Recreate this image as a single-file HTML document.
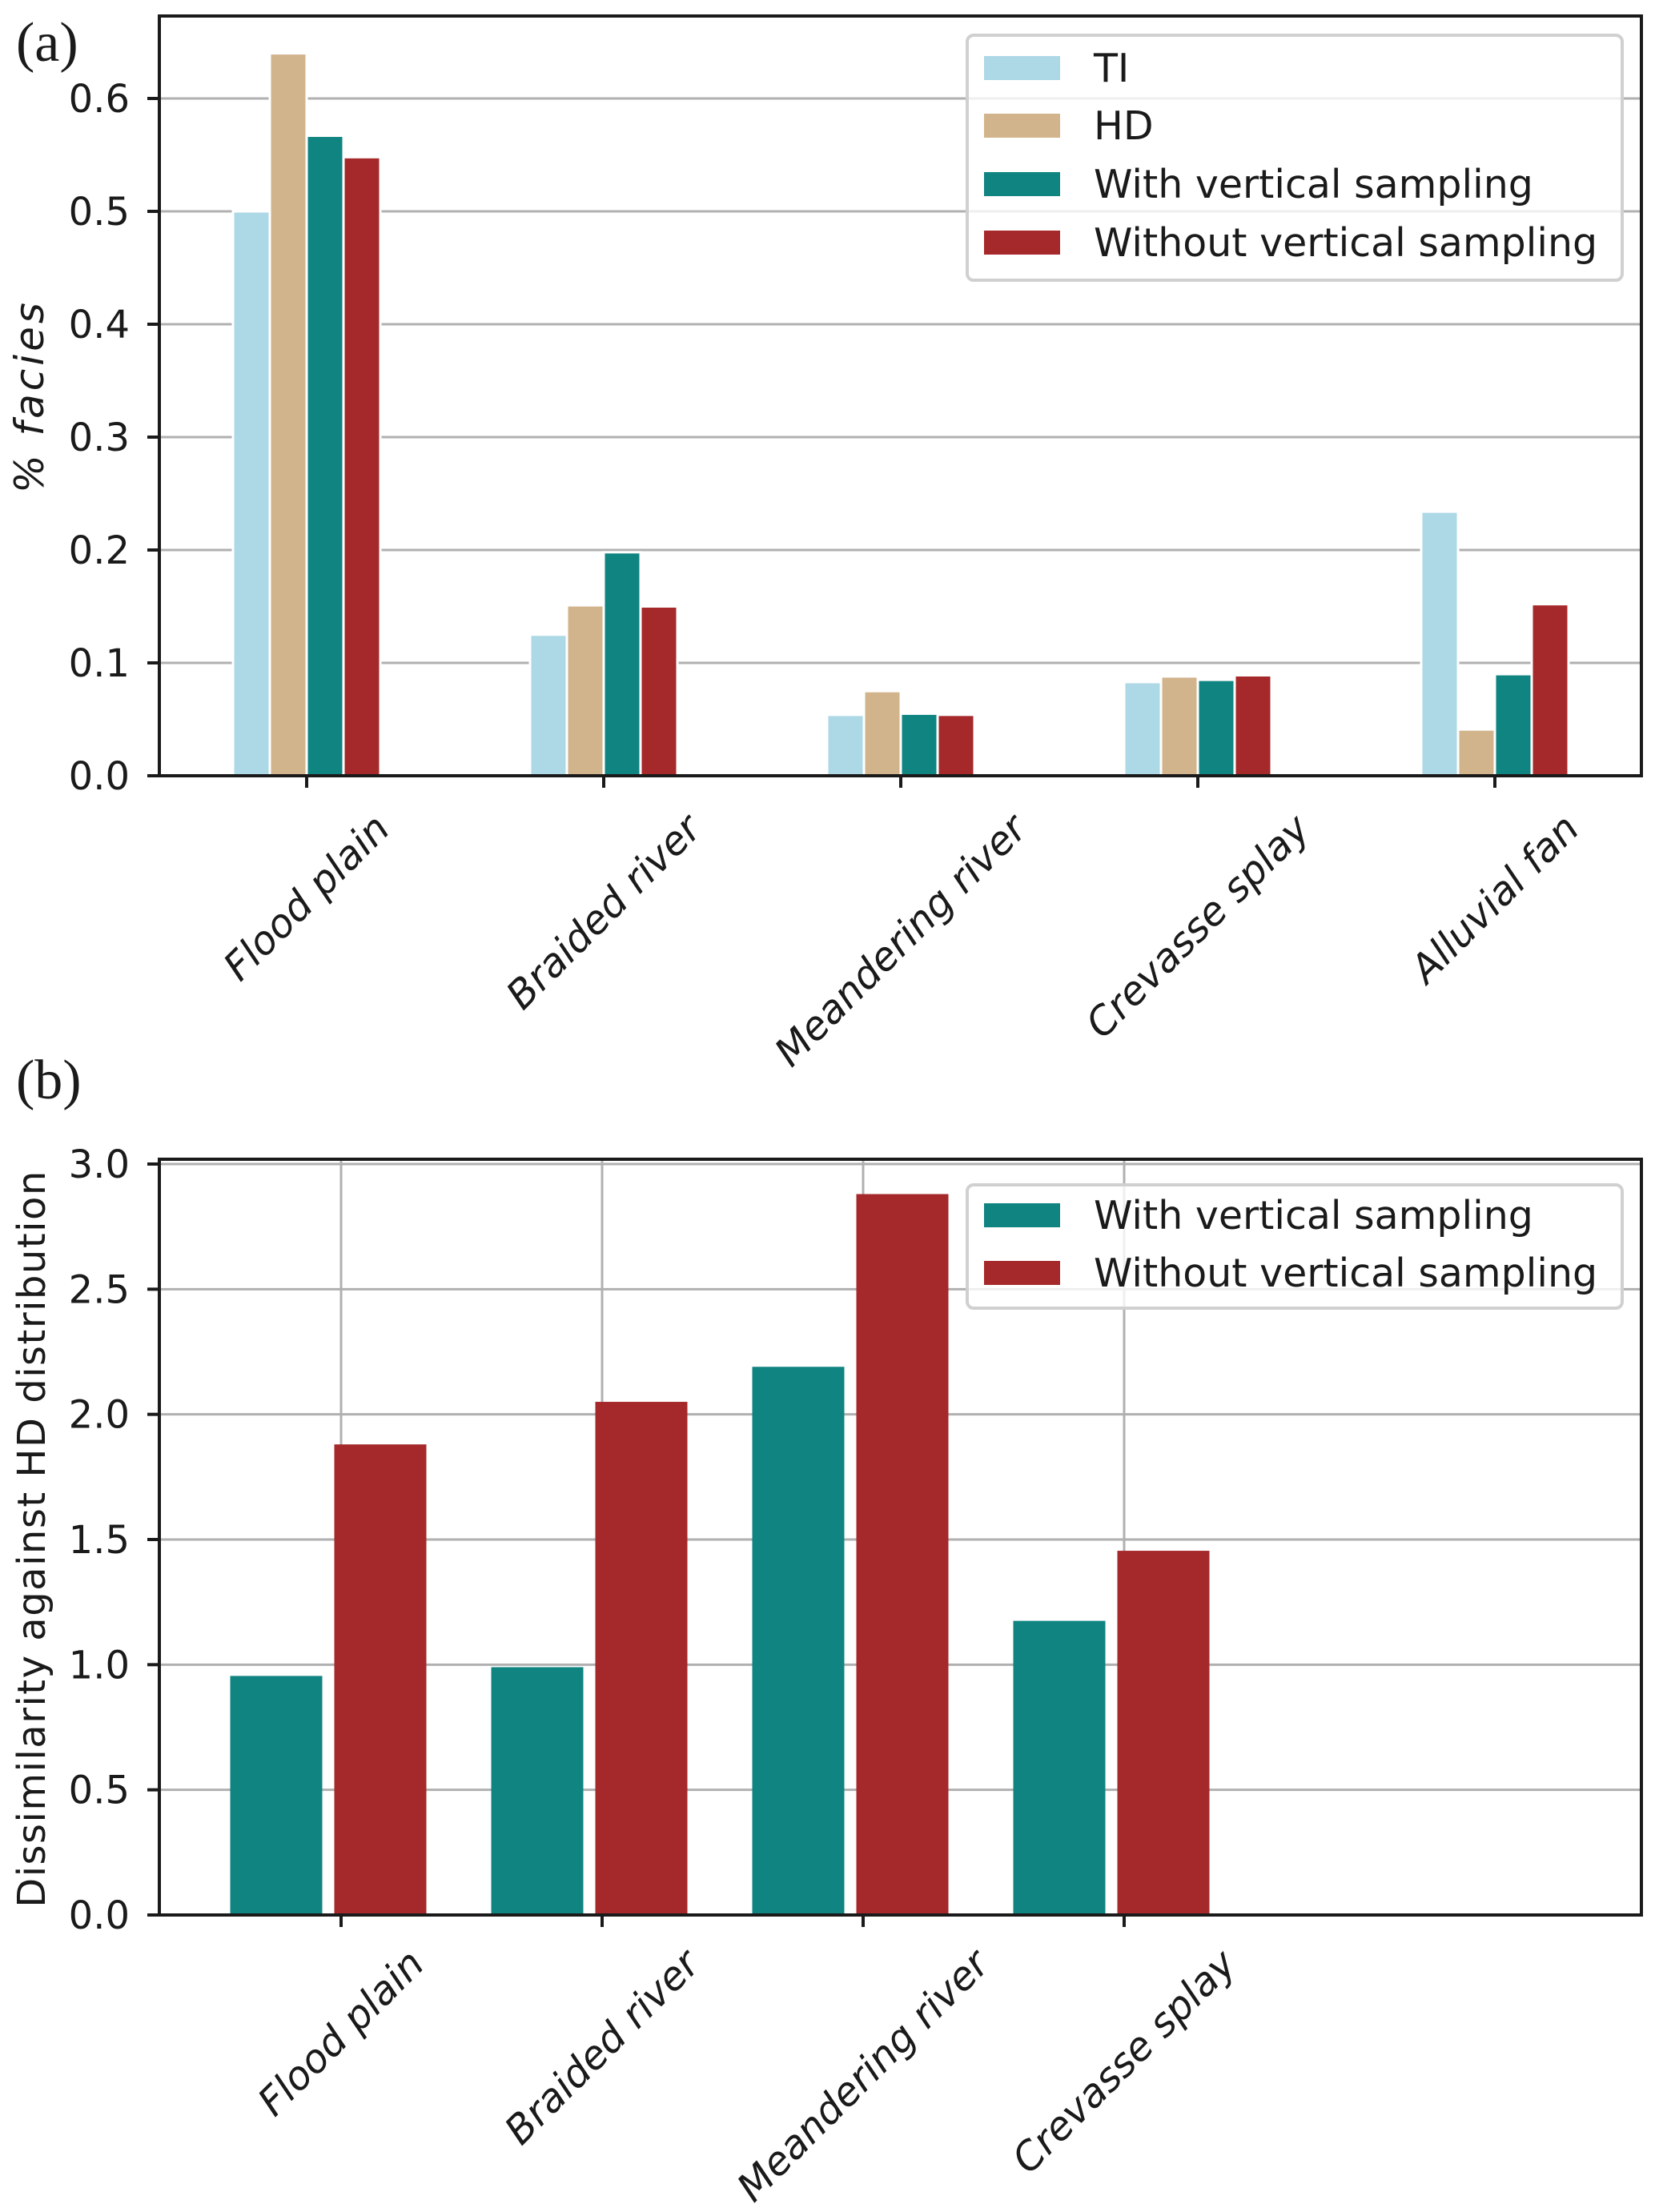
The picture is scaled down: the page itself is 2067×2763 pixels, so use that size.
<!DOCTYPE html>
<html><head><meta charset="utf-8"><style>
html,body{margin:0;padding:0;background:#fff;}
svg{display:block;}
text{font-family:"DejaVu Sans","Liberation Sans",sans-serif;fill:#1a1a1a;}
</style></head><body>
<svg id="fig" width="2067" height="2763" viewBox="0 0 2067 2763" xmlns="http://www.w3.org/2000/svg"></svg>
<script>
// Panel (a) data
const catsA = ["Flood plain","Braided river","Meandering river","Crevasse splay","Alluvial fan"];
const tiA = [0.500,0.125,0.054,0.083,0.234];
const hdA = [0.640,0.151,0.075,0.088,0.041];
const withA = [0.567,0.198,0.055,0.085,0.090];
const withoutA = [0.548,0.150,0.054,0.089,0.152];
const ticksA = [0.0,0.1,0.2,0.3,0.4,0.5,0.6];
const tickLabelsA = ["0.0","0.1","0.2","0.3","0.4","0.5","0.6"];
// Panel (b) data
const catsB = ["Flood plain","Braided river","Meandering river","Crevasse splay"];
const withB = [0.955,0.99,2.19,1.175];
const withoutB = [1.88,2.05,2.88,1.455];
const ticksB = [0.0,0.5,1.0,1.5,2.0,2.5,3.0];
const tickLabelsB = ["0.0","0.5","1.0","1.5","2.0","2.5","3.0"];

const NS="http://www.w3.org/2000/svg";
const svg=document.getElementById('fig');
function mk(tag,attrs,parent){const e=document.createElementNS(NS,tag);for(const k in attrs)e.setAttribute(k,attrs[k]);(parent||svg).appendChild(e);return e;}
const C={ti:"#add8e6",hd:"#d2b48c",w:"#0f8480",wo:"#a5282a"};

// ---------- Panel A ----------
const A={L:199,R:2050,T:20,B:969};
const yA=v=>A.B - v*(A.B-123)/0.6;
const xA=i=>383 + i*371;
const gA=mk('g',{});


ticksA.forEach((t,i)=>{
  const l=mk('line',{x1:A.L,x2:A.R,y1:yA(t),y2:yA(t),stroke:"#b0b0b0","stroke-width":3},gA);
  
  
});
const seriesA=[[tiA,C.ti,"ti"],[hdA,C.hd,"hd"],[withA,C.w,"with"],[withoutA,C.wo,"without"]];
const bwA=46;
seriesA.forEach((s,si)=>{
  s[0].forEach((v,i)=>{
    const x=xA(i)-2*bwA+si*bwA;
    const r=mk('rect',{x:x,y:yA(v),width:bwA,height:A.B-yA(v),fill:s[1],stroke:"#fff","stroke-width":3},gA);
    
    
  });
});
mk('rect',{x:A.L,y:A.T,width:A.R-A.L,height:A.B-A.T,fill:"none",stroke:"#1a1a1a","stroke-width":4},gA);
ticksA.forEach((t,i)=>{
  mk('line',{x1:A.L-15,x2:A.L,y1:yA(t),y2:yA(t),stroke:"#1a1a1a","stroke-width":4},gA);
  const tx=mk('text',{x:162,y:yA(t)+17,"text-anchor":"end","font-size":48},gA);
  tx.textContent=tickLabelsA[i];
  
  
});
function xlabels(cats,xf,bottom,gap,g,nm){
  cats.forEach((c,i)=>{
    mk('line',{x1:xf(i),x2:xf(i),y1:bottom,y2:bottom+15,stroke:"#1a1a1a","stroke-width":4},g);
    const t=mk('text',{"text-anchor":"middle","font-size":49,"font-style":"italic","dominant-baseline":"central"},g);
    t.textContent=c;
    
    
    const w=t.getComputedTextLength();
    const h=44;
    const cy=bottom+gap+(w+h)*0.707/2;
    t.setAttribute('x',xf(i));t.setAttribute('y',cy);
    t.setAttribute('transform','rotate(-45 '+xf(i)+' '+cy+')');
  });
}
xlabels(catsA,xA,A.B,42,gA,'x-tick-label-a');
const ylA=mk('text',{x:0,y:0,"text-anchor":"middle","font-size":50,"font-style":"italic","letter-spacing":"4",transform:"translate(54 495) rotate(-90)"},gA);
ylA.textContent="% facies";


const pa=mk('text',{x:20,y:76,"font-size":70},gA);
pa.setAttribute('style','font-family:"Liberation Serif",serif');
pa.textContent="(a)";


function legend(items,x,y,w,h,rowY,g,nm){
  const lg=mk('g',{},g);
  
  
  mk('rect',{x:x,y:y,width:w,height:h,rx:8,fill:"#fff","fill-opacity":0.8,stroke:"#d0d0d0","stroke-width":4},lg);
  items.forEach((it,i)=>{
    const sw=mk('rect',{x:1229,y:rowY[i]-15,width:95,height:30,fill:it[1]},lg);
    
    
    const t=mk('text',{x:1366,y:rowY[i]+17,"font-size":49},lg);
    t.textContent=it[0];
    
    
  });
}
legend([["TI",C.ti],["HD",C.hd],["With vertical sampling",C.w],["Without vertical sampling",C.wo]],1208,44,818,306,[85,157,230,303],gA,'legend-a');

// ---------- Panel B ----------
const B={L:199,R:2050,T:1448,B:2392};
const yB=v=>B.B - v*(B.B-1454)/3.0;
const xB=i=>426 + i*326;
const gB=mk('g',{});


ticksB.forEach(t=>{
  const l=mk('line',{x1:B.L,x2:B.R,y1:yB(t),y2:yB(t),stroke:"#b0b0b0","stroke-width":3},gB);
  
  
});
catsB.forEach((c,i)=>{
  const l=mk('line',{x1:xB(i),x2:xB(i),y1:B.T,y2:B.B,stroke:"#b0b0b0","stroke-width":3},gB);
  
  
});
const bwB=115;
withB.forEach((v,i)=>{
  const r=mk('rect',{x:xB(i)-81-bwB/2,y:yB(v),width:bwB,height:B.B-yB(v),fill:C.w},gB);
  
  
});
withoutB.forEach((v,i)=>{
  const r=mk('rect',{x:xB(i)+49-bwB/2,y:yB(v),width:bwB,height:B.B-yB(v),fill:C.wo},gB);
  
  
});
mk('rect',{x:B.L,y:B.T,width:B.R-B.L,height:B.B-B.T,fill:"none",stroke:"#1a1a1a","stroke-width":4},gB);
ticksB.forEach((t,i)=>{
  mk('line',{x1:B.L-15,x2:B.L,y1:yB(t),y2:yB(t),stroke:"#1a1a1a","stroke-width":4},gB);
  const tx=mk('text',{x:162,y:yB(t)+17,"text-anchor":"end","font-size":48},gB);
  tx.textContent=tickLabelsB[i];
  
  
});
xlabels(catsB,xB,B.B,37,gB,'x-tick-label-b');
const ylB=mk('text',{x:0,y:0,"text-anchor":"middle","font-size":48,"letter-spacing":"1.5",transform:"translate(56 1922) rotate(-90)"},gB);
ylB.textContent="Dissimilarity against HD distribution";


const pb=mk('text',{x:20,y:1372,"font-size":70},gB);
pb.setAttribute('style','font-family:"Liberation Serif",serif');
pb.textContent="(b)";


legend([["With vertical sampling",C.w],["Without vertical sampling",C.wo]],1208,1480,818,154,[1518,1590],gB,'legend-b');
</script>
</body></html>
